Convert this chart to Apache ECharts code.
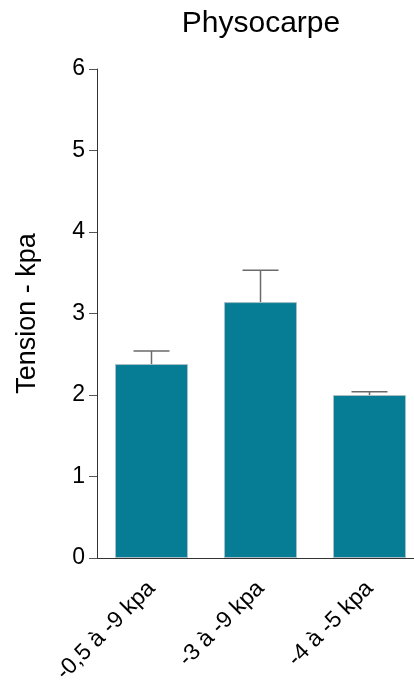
<!DOCTYPE html>
<html><head><meta charset="utf-8">
<script src="https://cdn.jsdelivr.net/npm/echarts@6/dist/echarts.min.js"></script>
<style>html,body{margin:0;padding:0;background:#fff;overflow:hidden;width:414px;height:681px}#c{width:424px;height:681px}</style>
</head><body><div id="c"></div>
<script>
var categories = ['-0,5 à -9 kpa', '-3 à -9 kpa', '-4 à -5 kpa'];
var means = [2.38, 3.14, 2.00];
var upperErr = [2.54, 3.53, 2.04];
var yTicks = [0, 1, 2, 3, 4, 5, 6];

var chart = echarts.init(document.getElementById('c'));
var font = 'Liberation Sans, Arial, sans-serif';
chart.setOption({
  animation: false,
  title: { text: 'Physocarpe', left: 256, top: 4, textAlign: 'center',
    textStyle: { fontFamily: font, fontSize: 30, fontWeight: 'normal', color: '#000' } },
  grid: { left: 97, right: 0, top: 69, bottom: 123, containLabel: false, outerBoundsMode: 'none' },
  xAxis: {
    type: 'category', data: categories,
    axisLine: { lineStyle: { color: '#333', width: 1 } },
    axisTick: { alignWithLabel: true, length: 9, lineStyle: { color: '#555' } },
    axisLabel: { rotate: 45, fontFamily: font, fontSize: 23, color: '#000', margin: 27 }
  },
  yAxis: {
    type: 'value', min: yTicks[0], max: yTicks[yTicks.length - 1], interval: 1,
    name: 'Tension - kpa', nameLocation: 'middle', nameGap: 56, nameRotate: 90,
    nameTextStyle: { fontFamily: font, fontSize: 27, color: '#000' },
    axisLine: { show: true, lineStyle: { color: '#333', width: 1 } },
    axisTick: { show: true, length: 8, lineStyle: { color: '#555' } },
    axisLabel: { fontFamily: font, fontSize: 23, color: '#000', margin: 12 },
    splitLine: { show: false }
  },
  series: [
    { type: 'bar', data: means, barWidth: 73,
      itemStyle: { color: '#077C95', borderColor: '#a9bfc6', borderWidth: 1 } },
    { type: 'custom', data: means.map(function (m, i) { return [i, m, upperErr[i]]; }),
      z: 1,
      renderItem: function (params, api) {
        var p0 = api.coord([api.value(0), api.value(1)]);
        var p1 = api.coord([api.value(0), api.value(2)]);
        var hw = 18;
        var st = { stroke: '#6a6a6a', lineWidth: 1.5 };
        return { type: 'group', children: [
          { type: 'line', shape: { x1: p0[0], y1: p0[1], x2: p1[0], y2: p1[1] }, style: st },
          { type: 'line', shape: { x1: p1[0] - hw, y1: p1[1], x2: p1[0] + hw, y2: p1[1] }, style: st }
        ] };
      }
    }
  ]
});
</script></body></html>
